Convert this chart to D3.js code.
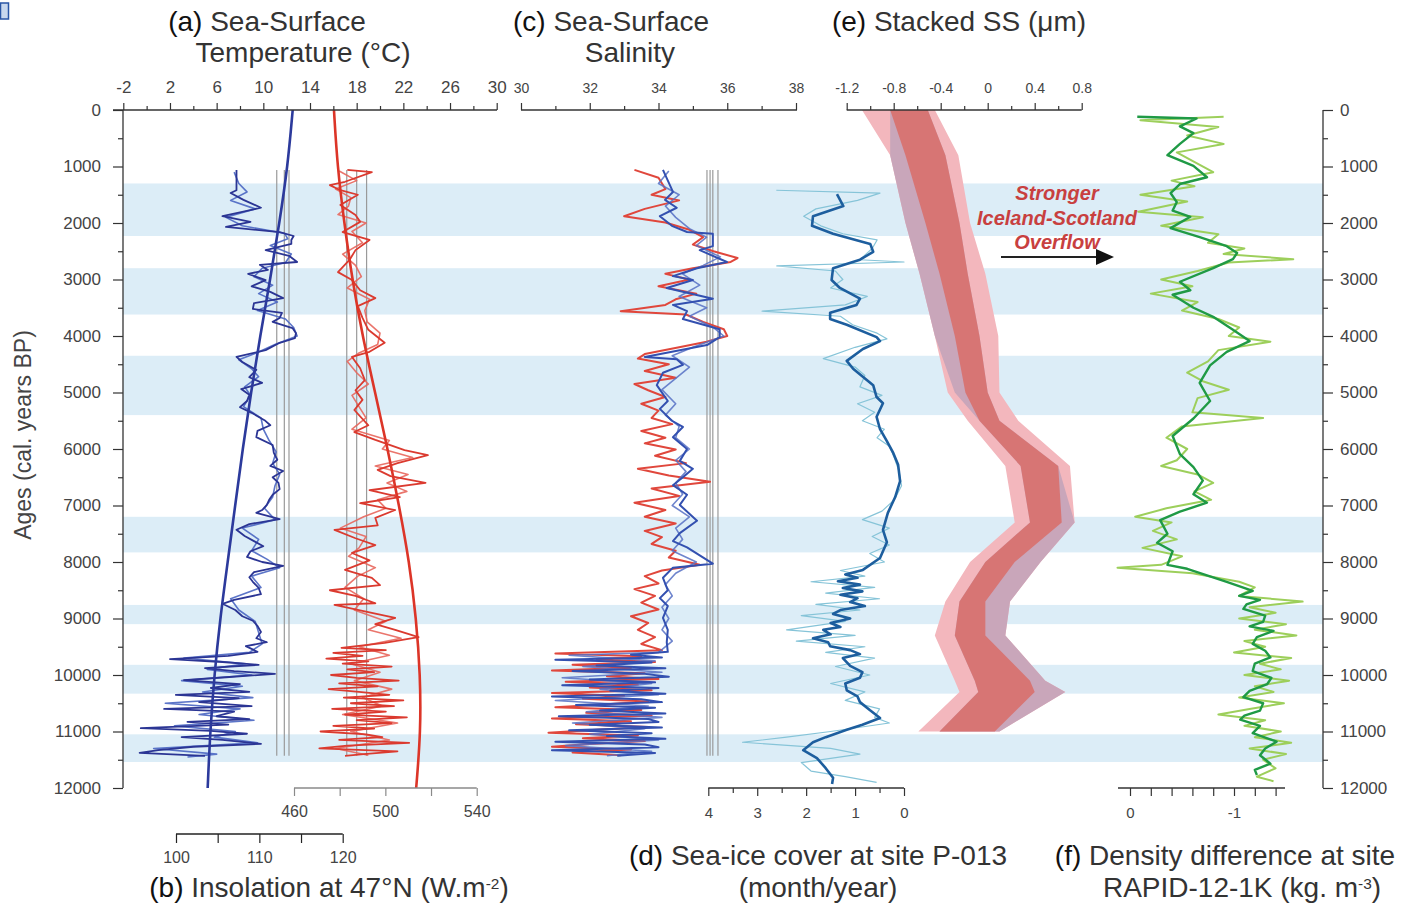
<!DOCTYPE html>
<html>
<head>
<meta charset="utf-8">
<script src="https://cdn.jsdelivr.net/npm/d3@7"></script>
<style>
  body { margin: 0; background: #fff; }
  svg { font-family: "Liberation Sans", Arial, sans-serif; }
</style>
</head>
<body>
<div id="container"></div>
<script>
/* CONSTANTS */
const width = 1416, height = 905;

/* DATA  (pairs are [age cal. yr BP, value]) */
// light blue cold intervals
const coldBands = [[1300, 2230], [2800, 3620], [4350, 5400], [7200, 7830], [8760, 9100], [9820, 10330], [11050, 11540]];

// (a) SST, blue record (°C)
const sstBlueA = [[1060,7.7],[1420,7.7],[1470,7.2],[1590,8.3],[1730,9.8],[1880,6.5],[1980,8.9],[2070,6.8],[2160,11.4],[2230,12.6],[2300,12.4],[2370,12.4],[2480,10.2],[2580,12.2],[2690,12.9],[2740,9.7],[2830,10.4],[2900,8.7],[3010,10.2],[3120,9.0],[3220,10.6],[3330,11.7],[3420,9.2],[3520,9.1],[3590,11.6],[3680,11.4],[3750,10.8],[3860,12.5],[3950,12.8],[4040,12.7],[4120,11.4],[4250,10.2],[4370,7.7],[4460,8.2],[4600,9.4],[4730,8.8],[4830,9.9],[4940,8.1],[5040,8.8],[5150,8.6],[5260,8.0],[5360,9.0],[5490,10.1],[5580,10.6],[5680,9.5],[5790,9.4],[5930,10.8],[6070,10.9],[6190,11.2],[6300,10.6],[6390,11.7],[6500,10.8],[6600,11.3],[6710,11.4],[6810,10.8],[6900,10.5],[6990,10.3],[7080,9.9],[7130,9.4],[7240,11.4],[7330,8.8],[7430,7.7],[7540,8.4],[7630,9.2],[7720,10.0],[7810,8.9],[7910,8.6],[8000,9.9],[8070,11.7],[8180,9.2],[8270,8.8],[8350,9.1],[8460,9.6],[8570,9.8],[8670,7.5],[8740,6.5],[8850,7.6],[8960,8.2],[9040,9.1],[9130,9.5],[9240,9.8],[9350,9.4],[9420,10.3],[9490,8.5],[9590,9.5],[9660,7.0],[9720,2.0],[9770,6.5],[9820,9.6],[9880,5.0],[9930,7.5],[9980,11.0],[10040,6.8],[10090,3.2],[10160,8.0],[10230,5.5],[10300,8.8],[10350,2.5],[10410,7.9],[10480,4.5],[10550,9.0],[10600,1.5],[10650,7.5],[10730,6.0],[10780,8.8],[10830,3.5],[10880,7.0],[10940,-0.5],[10990,5.5],[11040,8.6],[11100,3.0],[11150,6.5],[11220,9.8],[11270,4.0],[11330,1.0],[11380,-0.6],[11430,5.0]];
const sstBlueB = [[1100,7.5],[1300,7.9],[1450,8.6],[1600,7.2],[1750,9.3],[1900,6.8],[2050,8.2],[2180,11.8],[2280,12.1],[2400,10.6],[2550,12.4],[2700,11.9],[2800,9.9],[2950,9.2],[3100,10.8],[3250,9.6],[3400,11.2],[3550,9.5],[3700,11.9],[3850,12.6],[4000,12.9],[4150,11.0],[4300,9.4],[4420,7.9],[4580,9.0],[4720,9.6],[4900,8.4],[5050,8.9],[5250,8.3],[5450,9.8],[5650,10.0],[5850,10.5],[6050,11.1],[6250,10.8],[6450,11.4],[6650,11.0],[6850,10.8],[7050,10.1],[7250,11.0],[7400,8.2],[7600,9.6],[7800,9.0],[7950,10.3],[8100,11.4],[8250,9.0],[8450,9.8],[8650,7.2],[8850,7.9],[9050,9.3],[9250,9.6],[9450,9.9],[9600,8.8],[9700,3.2],[9800,8.5],[9900,5.2],[10000,9.0],[10100,3.0],[10200,8.2],[10300,4.8],[10400,9.1],[10500,1.6],[10600,8.0],[10700,4.5],[10800,9.2],[10900,2.4],[11000,7.6],[11100,5.8],[11200,9.5],[11300,0.6],[11400,6.0],[11450,3.5]];

// (a) SST, red record (°C)
const sstRedA = [[1060,17.2],[1100,19.3],[1270,17.0],[1330,15.7],[1420,16.6],[1500,18.1],[1680,16.6],[1860,17.9],[1980,18.3],[2160,16.8],[2300,19.1],[2480,17.9],[2650,17.4],[2870,16.4],[3010,17.6],[3190,18.3],[3330,19.6],[3470,18.1],[3680,18.5],[3890,19.0],[4120,20.4],[4280,19.1],[4370,17.6],[4570,18.3],[4780,18.7],[4960,17.9],[5130,18.5],[5310,17.8],[5580,19.0],[5700,17.8],[5840,19.6],[6020,22.1],[6110,24.1],[6250,21.5],[6370,19.8],[6480,20.9],[6600,23.9],[6730,19.1],[6850,21.7],[6960,18.3],[7080,21.3],[7220,19.6],[7350,19.8],[7430,16.1],[7580,17.9],[7700,19.6],[7840,17.6],[7970,19.1],[8140,17.0],[8280,19.3],[8410,20.0],[8500,15.7],[8600,17.9],[8730,19.6],[8760,16.1],[8890,19.1],[8990,21.3],[9100,19.6],[9200,21.3],[9330,23.3],[9430,20.4],[9520,16.7],[9560,20.5],[9610,16.0],[9660,18.5],[9710,15.4],[9760,19.0],[9800,16.8],[9850,21.0],[9900,17.2],[9950,19.5],[10000,15.8],[10050,18.0],[10100,21.6],[10150,16.5],[10200,19.8],[10250,15.6],[10300,18.2],[10350,20.8],[10400,16.9],[10450,22.0],[10500,17.5],[10550,21.2],[10600,15.9],[10650,20.5],[10700,17.0],[10750,22.3],[10800,18.0],[10850,21.0],[10900,16.0],[10950,19.5],[11000,14.9],[11050,18.8],[11100,20.2],[11150,16.5],[11200,22.5],[11250,17.2],[11300,14.8],[11350,21.5],[11400,18.6],[11430,17.0]];
const sstRedB = [[1080,16.5],[1250,18.0],[1400,16.2],[1550,17.5],[1700,17.3],[1850,16.4],[2000,18.8],[2150,17.6],[2350,18.5],[2550,16.8],[2750,17.9],[2950,18.4],[3150,17.2],[3350,19.1],[3550,18.7],[3750,18.9],[3950,20.0],[4150,19.8],[4300,18.2],[4450,17.2],[4650,18.0],[4850,19.0],[5050,17.6],[5250,18.2],[5450,18.8],[5650,17.6],[5850,20.8],[6000,20.2],[6150,22.8],[6300,19.6],[6450,22.4],[6600,20.6],[6750,22.3],[6900,19.8],[7050,20.5],[7200,18.6],[7400,16.6],[7550,18.8],[7750,18.2],[7900,17.3],[8100,19.6],[8250,18.1],[8450,17.0],[8650,18.6],[8850,17.8],[9050,20.5],[9200,19.0],[9350,21.8],[9500,18.2],[9650,20.8],[9800,17.5],[9950,20.0],[10100,17.8],[10250,21.0],[10400,18.5],[10550,20.2],[10700,16.8],[10850,21.5],[11000,17.5],[11150,20.8],[11300,16.2],[11420,19.0]];

// modern / reference values (grey verticals)
const sstRefBlue = [11.15, 11.8, 12.2];
const sstRefRed = [17.15, 18.0, 18.85];
const sssRef = [35.41, 35.5, 35.58, 35.73];
const refSpan = [1060, 11430];

// (b) insolation at 47°N (W.m-2)
const insolBlue = [[0,114.0],[1000,113.4],[2000,112.4],[3000,111.3],[4000,110.1],[5000,109.0],[6000,108.0],[7000,107.1],[8000,106.2],[9000,105.3],[10000,104.6],[11000,104.1],[12000,103.8]];
const insolRed = [[0,477.5],[1000,479],[2000,482],[3000,485.5],[4000,490],[5000,495.5],[6000,501],[7000,506],[8000,510.5],[9000,513.5],[10000,515.3],[11000,515.5],[12000,513.5]];

// (c) SSS
const sssBlueA = [[1060,34.13],[1450,34.42],[1590,34.19],[1730,34.53],[1880,34.04],[2050,34.39],[2160,34.83],[2190,35.58],[2410,35.58],[2480,35.2],[2690,35.99],[2800,35.12],[2940,34.42],[3010,35.0],[3150,34.24],[3340,35.58],[3450,34.42],[3560,34.83],[3700,34.71],[3880,35.78],[4020,35.78],[4160,35.41],[4370,33.6],[4410,34.53],[4510,34.71],[4650,34.13],[4870,33.95],[5150,34.27],[5290,34.04],[5500,34.39],[5610,34.71],[5790,34.42],[6000,34.83],[6210,34.62],[6350,35.0],[6500,34.71],[6640,34.42],[6810,34.83],[6990,34.62],[7270,35.12],[7490,34.62],[7630,34.42],[7740,34.83],[8030,35.58],[8100,34.42],[8280,34.13],[8500,34.27],[8640,34.04],[8780,34.27],[8990,34.13],[9200,34.27],[9420,34.24],[9590,34.27],[9640,33.2],[9690,34.1],[9730,31.0],[9780,33.8],[9830,32.2],[9880,34.2],[9930,31.5],[9980,33.6],[10030,34.3],[10080,32.0],[10130,33.9],[10180,31.2],[10230,34.0],[10280,32.6],[10330,34.2],[10380,30.9],[10430,33.5],[10480,34.1],[10530,31.6],[10580,33.9],[10630,32.3],[10680,34.2],[10730,31.1],[10780,33.7],[10830,34.0],[10880,32.0],[10930,34.1],[10980,31.4],[11030,33.8],[11080,32.5],[11130,34.2],[11180,31.0],[11230,33.6],[11280,34.0],[11330,30.9],[11380,33.9],[11430,32.8]];
const sssBlueB = [[1080,34.3],[1300,34.0],[1500,34.6],[1700,34.2],[1900,34.5],[2100,34.9],[2250,35.4],[2400,35.1],[2600,35.8],[2750,35.3],[2900,34.7],[3100,35.2],[3300,34.6],[3500,35.4],[3650,34.9],[3850,35.6],[4000,35.9],[4200,35.0],[4350,34.4],[4550,34.9],[4750,34.5],[4950,34.1],[5200,34.5],[5400,34.2],[5600,34.6],[5800,34.5],[6000,34.9],[6200,34.5],[6400,34.8],[6600,34.5],[6800,34.7],[7000,34.4],[7200,34.9],[7400,34.5],[7600,34.7],[7800,34.4],[8000,35.1],[8200,34.5],[8400,34.2],[8600,34.4],[8800,34.1],[9000,34.3],[9200,34.1],[9400,34.4],[9600,34.0],[9650,31.4],[9750,33.9],[9850,31.8],[9950,34.1],[10050,31.2],[10150,33.8],[10250,32.3],[10350,34.0],[10450,31.0],[10550,33.7],[10650,31.9],[10750,34.1],[10850,31.5],[10950,33.6],[11050,32.0],[11150,34.0],[11250,31.3],[11350,33.8],[11430,32.5]];
const sssRedA = [[1060,33.3],[1200,34.0],[1400,34.2],[1500,33.8],[1600,34.6],[1750,33.6],[1880,33.0],[1990,34.2],[2120,34.9],[2250,35.3],[2380,35.0],[2500,35.6],[2620,36.3],[2690,36.1],[2800,35.0],[2900,34.2],[3000,34.9],[3120,34.0],[3250,35.1],[3350,34.5],[3450,34.2],[3560,32.9],[3620,34.8],[3750,35.3],[3880,35.9],[4000,36.0],[4100,35.4],[4200,34.6],[4320,33.6],[4400,33.4],[4500,34.3],[4620,33.6],[4740,34.5],[4850,33.3],[4960,33.7],[5080,34.2],[5200,33.5],[5320,34.0],[5450,33.8],[5560,34.4],[5680,33.5],[5800,34.2],[5900,33.6],[6010,34.5],[6120,33.9],[6250,34.8],[6350,33.4],[6470,34.3],[6580,35.5],[6700,33.8],[6830,34.6],[6950,33.3],[7080,34.2],[7200,33.6],[7320,34.5],[7450,33.6],[7560,34.1],[7680,33.8],[7800,34.5],[7920,34.3],[8050,35.2],[8150,34.1],[8250,33.6],[8380,34.0],[8480,33.3],[8600,33.9],[8720,33.5],[8840,34.0],[8960,33.2],[9080,33.7],[9200,33.4],[9330,33.9],[9450,33.5],[9560,34.1],[9620,31.0],[9670,33.5],[9720,32.2],[9770,33.9],[9820,31.5],[9870,33.2],[9920,30.9],[9970,33.6],[10020,32.5],[10070,34.0],[10120,31.3],[10170,33.4],[10220,32.0],[10270,33.8],[10320,30.9],[10370,33.0],[10420,31.8],[10470,33.7],[10520,32.4],[10570,31.0],[10620,33.5],[10670,31.9],[10720,33.8],[10770,30.9],[10820,33.2],[10870,31.6],[10920,33.7],[10970,32.2],[11020,30.8],[11070,33.4],[11120,31.8],[11170,33.6],[11220,32.0],[11270,30.9],[11320,33.2],[11370,31.5],[11420,32.9]];

// (d) sea-ice cover at P-013 (month/year)
const iceDark = [[1490,1.37],[1700,1.24],[1880,1.86],[2050,1.88],[2190,1.45],[2370,0.69],[2510,0.63],[2650,0.90],[2800,1.45],[3010,1.48],[3150,1.31],[3340,0.90],[3450,0.97],[3590,1.51],[3700,1.51],[3800,1.17],[4020,0.56],[4090,0.49],[4230,0.84],[4440,1.17],[4580,1.04],[4870,0.63],[5080,0.56],[5190,0.43],[5430,0.56],[5650,0.49],[5860,0.35],[6070,0.22],[6280,0.12],[6570,0.08],[6850,0.18],[7130,0.33],[7430,0.43],[7650,0.35],[7930,0.49],[8140,0.84],[8220,1.20],[8280,0.95],[8340,1.35],[8400,0.90],[8460,1.25],[8520,0.85],[8580,1.30],[8640,0.95],[8710,1.10],[8780,0.80],[8850,1.30],[8920,1.45],[9000,1.10],[9080,1.50],[9150,1.30],[9200,1.65],[9280,1.50],[9350,1.86],[9420,1.55],[9490,1.51],[9560,1.10],[9630,0.90],[9700,1.25],[9840,1.10],[9950,0.85],[10050,0.90],[10150,1.20],[10270,1.17],[10380,0.95],[10480,0.90],[10620,0.70],[10760,0.49],[10880,0.85],[10970,1.17],[11100,1.60],[11190,1.86],[11330,2.06],[11470,1.78],[11650,1.60],[11820,1.45],[11930,1.47]];
const iceLight = [[1420,2.61],[1470,0.49],[1600,0.95],[1750,1.8],[1880,2.05],[2050,1.7],[2190,1.25],[2300,0.55],[2450,0.65],[2650,0.9],[2690,0.0],[2760,2.6],[2850,1.4],[3000,1.25],[3150,1.5],[3300,0.75],[3450,1.2],[3560,2.9],[3650,1.3],[3800,1.05],[3950,0.55],[4050,0.35],[4200,1.0],[4400,1.65],[4550,1.0],[4700,0.8],[4900,0.9],[5050,0.45],[5200,0.95],[5350,0.6],[5500,0.85],[5650,0.4],[5800,0.55],[5950,0.3],[6150,0.2],[6400,0.1],[6650,0.05],[6900,0.2],[7100,0.45],[7250,0.85],[7400,0.3],[7550,0.65],[7700,0.3],[7850,0.7],[8000,0.4],[8150,1.3],[8250,0.8],[8350,1.9],[8450,0.6],[8550,1.6],[8650,0.5],[8750,1.8],[8850,0.9],[8950,2.1],[9050,1.2],[9200,2.4],[9300,1.0],[9400,2.2],[9500,0.8],[9600,1.6],[9700,0.6],[9850,1.4],[10000,0.7],[10150,1.5],[10300,0.8],[10450,1.2],[10600,0.5],[10750,0.6],[10850,0.3],[11000,1.5],[11100,2.4],[11190,3.3],[11300,1.5],[11400,0.9],[11550,2.1],[11700,1.9],[11800,1.2],[11900,0.56]];

// (e) stacked sortable silt mean size (µm anomaly)
const ssAges    = [0, 800, 2000, 2900, 4000, 5000, 5500, 6300, 7300, 8000, 8700, 9300, 10100, 10300, 11000];
const ssOuterLo = [-1.07, -0.83, -0.70, -0.58, -0.45, -0.34, -0.17, 0.15, 0.23, -0.15, -0.36, -0.45, -0.28, -0.24, -0.59];
const ssOuterHi = [-0.45, -0.25, -0.15, -0.02, 0.09, 0.10, 0.26, 0.70, 0.74, 0.45, 0.19, 0.15, 0.49, 0.66, 0.10];
const ssMauveLo = [-0.83, -0.83, -0.70, -0.58, -0.45, -0.28, -0.07, 0.28, 0.36, -0.02, -0.24, -0.28, -0.11, -0.08, -0.41];
const ssMauveHi = [-0.51, -0.36, -0.24, -0.17, -0.07, 0.00, 0.10, 0.60, 0.74, 0.45, 0.19, 0.15, 0.49, 0.66, 0.10];
const ssCoreLo  = [-0.83, -0.70, -0.53, -0.41, -0.28, -0.19, -0.07, 0.28, 0.36, -0.02, -0.24, -0.28, -0.11, -0.08, -0.41];
const ssCoreHi  = [-0.51, -0.36, -0.24, -0.17, -0.07, 0.00, 0.10, 0.60, 0.63, 0.23, -0.02, -0.02, 0.36, 0.40, 0.06];

// (f) density difference at RAPID-12-1K (kg m-3)
const densDark = [[120,-0.07],[150,-0.64],[290,-0.48],[410,-0.61],[600,-0.48],[800,-0.36],[990,-0.61],[1190,-0.74],[1310,-0.48],[1470,-0.39],[1630,-0.45],[1780,-0.41],[1890,-0.58],[2090,-0.39],[2250,-0.67],[2410,-0.93],[2530,-1.03],[2640,-0.99],[2800,-0.80],[3040,-0.48],[3190,-0.58],[3270,-0.41],[3500,-0.61],[3660,-0.80],[3890,-0.99],[4090,-1.15],[4280,-0.93],[4520,-0.77],[4830,-0.67],[5150,-0.77],[5460,-0.61],[5770,-0.41],[6090,-0.48],[6320,-0.61],[6560,-0.70],[6800,-0.61],[6950,-0.74],[7110,-0.48],[7260,-0.29],[7500,-0.36],[7660,-0.26],[7810,-0.41],[8050,-0.36],[8120,-0.55],[8350,-0.93],[8510,-1.18],[8600,-1.05],[8670,-1.25],[8750,-1.12],[8830,-1.09],[8950,-1.30],[9060,-1.28],[9140,-1.15],[9220,-1.38],[9330,-1.22],[9450,-1.18],[9570,-1.30],[9690,-1.35],[9800,-1.20],[9930,-1.18],[10050,-1.36],[10160,-1.32],[10280,-1.15],[10390,-1.09],[10500,-1.28],[10630,-1.25],[10720,-1.10],[10790,-1.06],[10900,-1.25],[11030,-1.18],[11180,-1.41],[11300,-1.30],[11420,-1.25],[11570,-1.35],[11680,-1.20],[11770,-1.22]];
const densLight = [[120,-0.90],[180,-0.10],[300,-0.85],[450,-0.55],[600,-0.90],[750,-0.45],[900,-0.60],[1100,-0.80],[1250,-0.40],[1350,-0.62],[1500,-0.10],[1620,-0.55],[1800,-0.08],[1900,-0.70],[2050,-0.30],[2200,-0.85],[2350,-0.75],[2450,-1.10],[2550,-0.90],[2640,-1.57],[2700,-0.95],[2850,-0.65],[3000,-0.30],[3120,-0.60],[3250,-0.20],[3400,-0.65],[3550,-0.50],[3700,-0.85],[3850,-1.05],[4000,-0.95],[4100,-1.35],[4250,-0.85],[4450,-0.75],[4650,-0.55],[4800,-0.70],[4950,-0.95],[5100,-0.65],[5350,-0.60],[5450,-1.28],[5600,-0.50],[5800,-0.35],[6000,-0.55],[6200,-0.45],[6300,-0.30],[6450,-0.65],[6600,-0.80],[6750,-0.62],[6900,-0.78],[7050,-0.35],[7200,-0.05],[7300,-0.40],[7450,-0.22],[7600,-0.45],[7750,-0.12],[7900,-0.50],[8050,-0.30],[8100,0.12],[8200,-0.60],[8350,-1.05],[8450,-1.20],[8600,-1.05],[8700,-1.66],[8800,-1.15],[8900,-1.40],[9000,-1.05],[9100,-1.50],[9200,-1.20],[9300,-1.60],[9400,-1.10],[9500,-1.30],[9600,-1.00],[9700,-1.55],[9800,-1.25],[9900,-1.45],[10000,-1.10],[10100,-1.53],[10200,-1.20],[10300,-1.38],[10400,-1.05],[10500,-1.48],[10600,-1.15],[10700,-0.85],[10800,-1.30],[10900,-1.10],[11000,-1.45],[11100,-1.20],[11200,-1.55],[11300,-1.15],[11400,-1.50],[11500,-1.28],[11650,-1.40],[11800,-1.22],[11880,-1.38]];

// tick values
const ageTicks = d3.range(0, 12001, 1000);
const ageMinor = d3.range(500, 12000, 1000);
const sstTicks = [-2, 2, 6, 10, 14, 18, 22, 26, 30];
const sstMinor = [0, 4, 8, 12, 16, 20, 24, 28];
const sssTicks = [30, 32, 34, 36, 38];
const sssMinor = [31, 33, 35, 37];
const ssTicks = [-1.2, -0.8, -0.4, 0, 0.4, 0.8];
const ssMinor = [-1.0, -0.6, -0.2, 0.2, 0.6];
const insSTicks = [460, 480, 500, 520, 540];
const insSLabels = [460, 500, 540];
const insWTicks = [100, 105, 110, 115, 120];
const insWLabels = [100, 110, 120];
const iceTicks = [4, 3, 2, 1, 0];
const iceMinor = [3.5, 2.5, 1.5, 0.5];
const denTicks = [0, -0.2, -0.4, -0.6, -0.8, -1, -1.2, -1.4];
const denLabels = [0, -1];

/* SCALES */
const y = d3.scaleLinear().domain([0, 12000]).range([110, 788]);
const xSST = d3.scaleLinear().domain([-2, 30]).range([123.3, 496.7]);
const xInsW = d3.scaleLinear().domain([100, 120]).range([176, 342.7]);
const xInsS = d3.scaleLinear().domain([460, 540]).range([294, 476.7]);
const xSSS = d3.scaleLinear().domain([30, 38]).range([521, 796]);
const xIce = d3.scaleLinear().domain([4, 0]).range([708.3, 904]);
const xSS = d3.scaleLinear().domain([-1.2, 0.8]).range([846.7, 1081.7]);
const xDen = d3.scaleLinear().domain([0, -1]).range([1130, 1234]);

/* DRAW */
const svg = d3.select("#container").append("svg")
  .attr("width", width)
  .attr("height", height);

svg.append("rect").attr("width", width).attr("height", height).attr("fill", "#fff");

// little cropped icon in the corner
svg.append("rect").attr("x", 0.5).attr("y", 3).attr("width", 8).attr("height", 16)
  .attr("fill", "#c9d8ee").attr("stroke", "#2a56a6").attr("stroke-width", 1.5);

// cold bands
svg.selectAll("rect.band")
  .data(coldBands)
  .join("rect")
  .attr("class", "band")
  .attr("x", 123)
  .attr("width", 1323 - 123)
  .attr("y", d => y(d[0]))
  .attr("height", d => y(d[1]) - y(d[0]))
  .attr("fill", "#dcedf7");

// (e) SS envelopes
const ssRows = ssAges.map((a, i) => ({ age: a, oLo: ssOuterLo[i], oHi: ssOuterHi[i], mLo: ssMauveLo[i], mHi: ssMauveHi[i], cLo: ssCoreLo[i], cHi: ssCoreHi[i] }));
function band(lo, hi, fill, op) {
  svg.append("path").datum(ssRows)
    .attr("fill", fill).attr("opacity", op)
    .attr("d", d3.area().y(d => y(d.age)).x0(d => xSS(d[lo])).x1(d => xSS(d[hi])));
}
band("oLo", "oHi", "#f3b7bd", 1);
band("mLo", "mHi", "#c9a6ba", 1);
band("cLo", "cHi", "#d8706d", 0.9);

// grey reference lines
function refLines(vals, xs) {
  svg.append("g").selectAll("line").data(vals).join("line")
    .attr("x1", d => xs(d)).attr("x2", d => xs(d))
    .attr("y1", y(refSpan[0])).attr("y2", y(refSpan[1]))
    .attr("stroke", "#9a9a9a").attr("stroke-width", 1.2);
}
refLines(sstRefBlue, xSST);
refLines(sstRefRed, xSST);
refLines(sssRef, xSSS);

function drawLine(data, xs, color, w, op = 1) {
  svg.append("path").datum(data)
    .attr("fill", "none")
    .attr("stroke", color)
    .attr("stroke-width", w)
    .attr("stroke-linejoin", "round")
    .attr("opacity", op)
    .attr("d", d3.line().x(d => xs(d[1])).y(d => y(d[0])));
}
function drawSmooth(data, xs, color, w) {
  svg.append("path").datum(data)
    .attr("fill", "none")
    .attr("stroke", color)
    .attr("stroke-width", w)
    .attr("d", d3.line().curve(d3.curveBasis).x(d => xs(d[1])).y(d => y(d[0])));
}

// (a)+(b)
drawLine(sstBlueB, xSST, "#4a66c2", 1.6, 0.9);
drawLine(sstBlueA, xSST, "#2b3594", 1.8);
drawLine(sstRedB, xSST, "#e8665c", 1.6, 0.9);
drawLine(sstRedA, xSST, "#db3a2f", 1.8);
drawSmooth(insolBlue, xInsW, "#2c3a9c", 2.6);
drawSmooth(insolRed, xInsS, "#dc3528", 2.6);

// (c)
drawLine(sssRedA, xSSS, "#e0473c", 2);
drawLine(sssBlueB, xSSS, "#5670c4", 1.6, 0.85);
drawLine(sssBlueA, xSSS, "#3350b0", 2);

// (d)
drawLine(iceLight, xIce, "#86c4d8", 1.2);
drawLine(iceDark, xIce, "#1d5e9e", 2.6);

// (f)
drawLine(densLight, xDen, "#9dcf5b", 2);
drawLine(densDark, xDen, "#1f9a45", 2.4);

/* AXES */
function styleAxis(g, fs) {
  g.selectAll("path.domain").remove();
  g.selectAll(".tick line").attr("stroke", "#333").attr("stroke-width", 1.2);
  g.selectAll(".tick text").attr("fill", "#444").attr("font-size", fs)
    .attr("font-family", "'Liberation Sans', Arial, sans-serif");
}
function hLine(x1, x2, yy, color, w) {
  svg.append("line").attr("x1", x1).attr("x2", x2).attr("y1", yy).attr("y2", yy)
    .attr("stroke", color).attr("stroke-width", w);
}
function vLine(xx, y1, y2) {
  svg.append("line").attr("x1", xx).attr("x2", xx).attr("y1", y1).attr("y2", y2)
    .attr("stroke", "#333").attr("stroke-width", 1.3);
}

// left age axis
vLine(123, 110, 788);
svg.append("g").attr("transform", "translate(123,0)")
  .call(d3.axisLeft(y).tickValues(ageTicks).tickSize(10).tickPadding(12).tickFormat(d3.format("d")))
  .call(g => styleAxis(g, 17));
svg.append("g").attr("transform", "translate(123,0)")
  .call(d3.axisLeft(y).tickValues(ageMinor).tickSize(5).tickFormat(""))
  .call(g => styleAxis(g, 17));

// right age axis
vLine(1323, 110, 788);
svg.append("g").attr("transform", "translate(1323,0)")
  .call(d3.axisRight(y).tickValues(ageTicks).tickSize(10).tickPadding(7).tickFormat(d3.format("d")))
  .call(g => styleAxis(g, 17));
svg.append("g").attr("transform", "translate(1323,0)")
  .call(d3.axisRight(y).tickValues(ageMinor).tickSize(5).tickFormat(""))
  .call(g => styleAxis(g, 17));

svg.append("text")
  .attr("transform", "translate(31,435) rotate(-90)")
  .attr("text-anchor", "middle")
  .attr("font-size", 23)
  .attr("fill", "#444")
  .text("Ages (cal. years BP)");

// top axes
function topAxis(xs, major, minor, x1, x2, fs, fmt) {
  hLine(x1, x2, 110, "#333", 1.3);
  svg.append("g").attr("transform", "translate(0,110)")
    .call(d3.axisTop(xs).tickValues(minor).tickSize(4).tickFormat(""))
    .call(g => styleAxis(g, fs));
  svg.append("g").attr("transform", "translate(0,110)")
    .call(d3.axisTop(xs).tickValues(major).tickSize(7).tickPadding(10).tickFormat(fmt))
    .call(g => styleAxis(g, fs));
}
topAxis(xSST, sstTicks, sstMinor, 113, 497, 17, d => String(d));
topAxis(xSSS, sssTicks, sssMinor, 521, 797, 14, d => String(d));
topAxis(xSS, ssTicks, ssMinor, 846.7, 1081.7, 14, d => d === 0 ? "0" : d.toFixed(1));

// bottom axes
function bottomAxis(xs, ticks, labels, minor, x1, x2, yy, color, size, pad, fs) {
  hLine(x1, x2, yy, color, 1.3);
  if (minor) {
    svg.append("g").attr("transform", `translate(0,${yy})`)
      .call(d3.axisBottom(xs).tickValues(minor).tickSize(5).tickFormat(""))
      .call(g => { styleAxis(g, fs); g.selectAll(".tick line").attr("stroke", color); });
  }
  svg.append("g").attr("transform", `translate(0,${yy})`)
    .call(d3.axisBottom(xs).tickValues(ticks).tickSize(size).tickPadding(pad)
      .tickFormat(d => labels.includes(d) ? String(d) : ""))
    .call(g => { styleAxis(g, fs); g.selectAll(".tick line").attr("stroke", color); });
}
bottomAxis(xInsS, insSTicks, insSLabels, null, 294, 476.7, 788, "#8a8a8a", 8, 10, 16);
bottomAxis(xInsW, insWTicks, insWLabels, null, 176, 342.7, 834, "#222", 9, 9, 16);
bottomAxis(xIce, iceTicks, iceTicks, iceMinor, 708.3, 904, 788, "#333", 8, 11, 15);
bottomAxis(xDen, denTicks, denLabels, null, 1118, 1285, 788, "#333", 8, 11, 15);

/* TITLES */
function title(lines, x, yy, fs) {
  const t = svg.append("text").attr("x", x).attr("y", yy)
    .attr("text-anchor", "middle").attr("font-size", fs).attr("fill", "#333");
  lines.forEach(p => {
    const s = t.append("tspan").text(p.t);
    if (p.sup) s.attr("baseline-shift", "super").attr("font-size", fs * 0.55);
    if (p.dark) s.attr("fill", "#111");
  });
}
title([{ t: "(a) ", dark: true }, { t: "Sea-Surface" }], 267, 31, 28);
title([{ t: "Temperature (°C)" }], 303, 62, 28);
title([{ t: "(c) ", dark: true }, { t: "Sea-Surface" }], 611, 31, 28);
title([{ t: "Salinity" }], 630, 62, 28);
title([{ t: "(e) ", dark: true }, { t: "Stacked SS (μm)" }], 959, 31, 28);
title([{ t: "(b) ", dark: true }, { t: "Insolation at 47°N (W.m" }, { t: "-2", sup: true }, { t: ")" }], 329, 897, 28);
title([{ t: "(d) ", dark: true }, { t: "Sea-ice cover at site P-013" }], 818, 865, 28);
title([{ t: "(month/year)" }], 818, 897, 28);
title([{ t: "(f)  ", dark: true }, { t: "Density difference at site" }], 1225, 865, 28);
title([{ t: "RAPID-12-1K (kg. m" }, { t: "-3", sup: true }, { t: ")" }], 1242, 897, 28);

/* ANNOTATION */
const note = ["Stronger", "Iceland-Scotland", "Overflow"];
svg.append("g").selectAll("text").data(note).join("text")
  .attr("x", 1057)
  .attr("y", (d, i) => 200 + i * 24.5)
  .attr("text-anchor", "middle")
  .attr("font-size", 20)
  .attr("font-weight", "bold")
  .attr("font-style", "italic")
  .attr("fill", "#c8403f")
  .text(d => d);
svg.append("line").attr("x1", 1001).attr("x2", 1098).attr("y1", 257).attr("y2", 257)
  .attr("stroke", "#222").attr("stroke-width", 2);
svg.append("path").attr("d", "M1096,249 L1114,257 L1096,265 Z").attr("fill", "#111");
</script>
</body>
</html>
